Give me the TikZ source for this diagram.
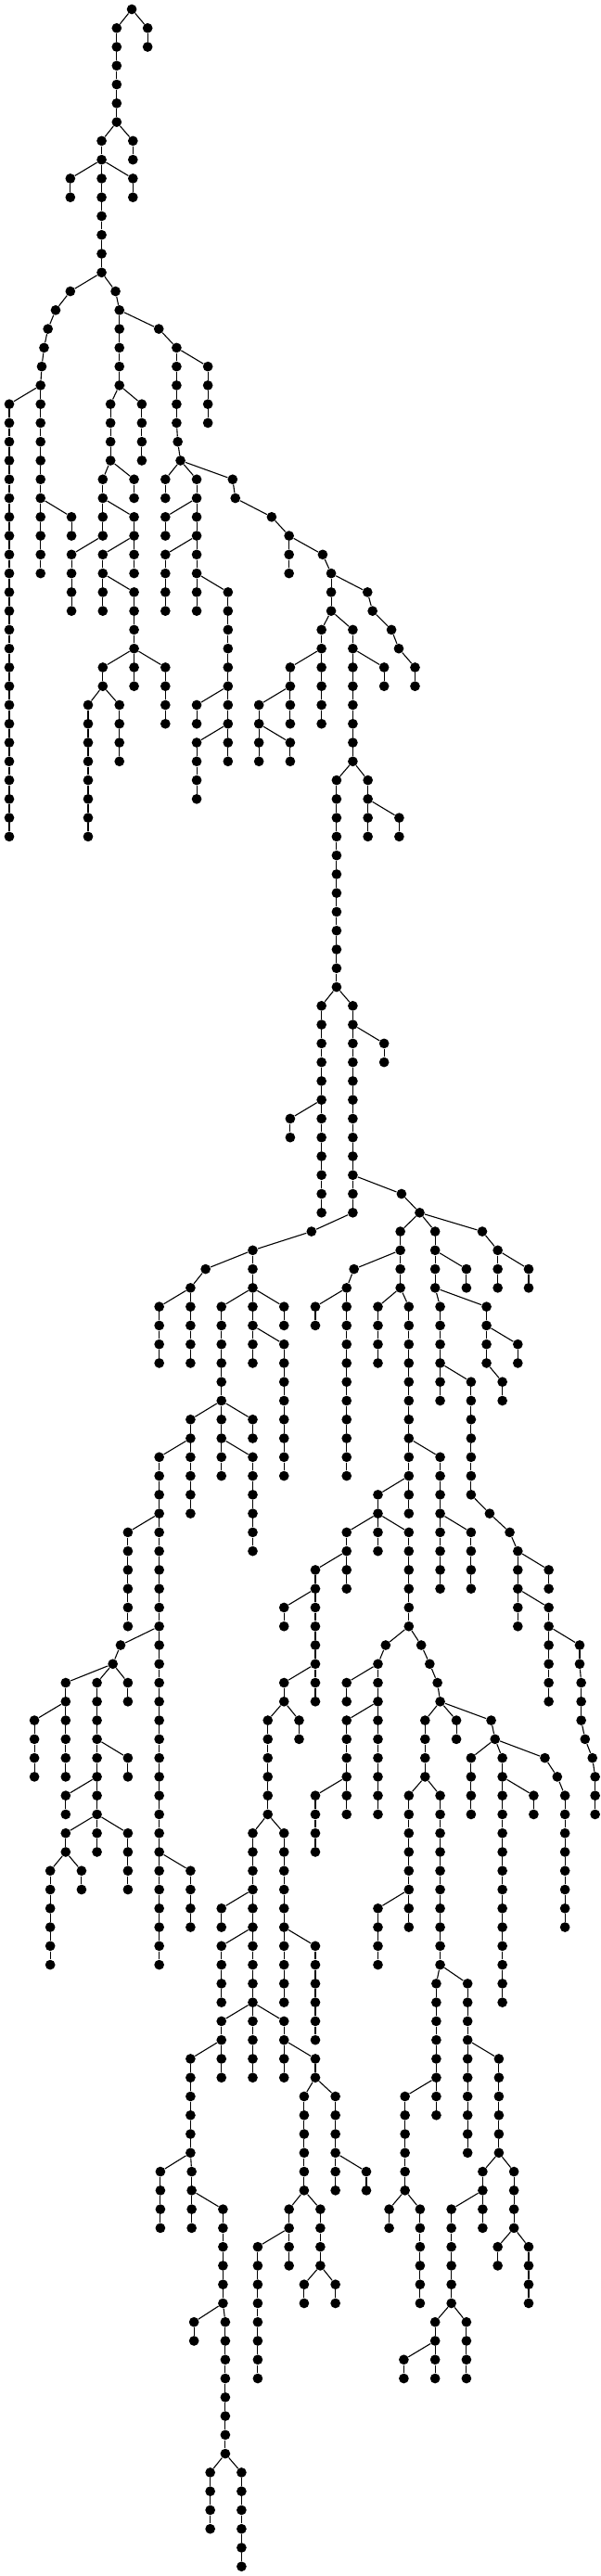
\documentclass[tikz,border=0pt]{standalone}
\tikzset{
  dot/.style={circle,fill=black,draw=none,inner sep=0pt,minimum size=5.35pt},
  edge/.style={line width=0.55pt,black},
}
\newcommand\chn[3]{%
  \foreach \k in {#2,...,#3}{\node[dot] (n#1L\k) at (#1,\k) {};}%
  \ifnum#3>#2\relax
    \pgfmathtruncatemacro\chst{#2+1}%
    \foreach \k [evaluate=\k as \j using int(\k-1)] in {\chst,...,#3}{\draw[edge] (n#1L\j) -- (n#1L\k);}%
  \fi}
\newcommand\ed[4]{\draw[edge] (n#1L#2) -- (n#3L#4);}
\begin{document}
\begin{tikzpicture}[x=0.20833pt,y=-10.135pt]
\useasboundingbox[fill=white] (0,-0.4933) rectangle (1553,136.507);
\chn{341}{0}{0}
\chn{302}{1}{6}
\chn{382}{1}{2}
\chn{263}{7}{14}
\chn{344}{7}{8}
\chn{182}{9}{10}
\chn{344}{9}{10}
\chn{182}{15}{15}
\chn{144}{16}{16}
\chn{124}{17}{17}
\chn{114}{18}{18}
\chn{108}{19}{19}
\chn{105}{20}{30}
\chn{24}{21}{44}
\chn{185}{27}{28}
\chn{299}{15}{15}
\chn{309}{16}{20}
\chn{411}{17}{17}
\chn{457}{18}{22}
\chn{538}{19}{22}
\chn{460}{23}{23}
\chn{467}{24}{24}
\chn{286}{21}{24}
\chn{367}{21}{24}
\chn{266}{25}{28}
\chn{347}{25}{26}
\chn{347}{27}{30}
\chn{185}{29}{32}
\chn{266}{29}{32}
\chn{347}{31}{36}
\chn{266}{35}{36}
\chn{428}{35}{38}
\chn{228}{37}{44}
\chn{309}{37}{40}
\chn{428}{25}{26}
\chn{509}{25}{32}
\chn{602}{25}{25}
\chn{428}{27}{28}
\chn{428}{29}{32}
\chn{590}{31}{40}
\chn{509}{37}{38}
\chn{509}{39}{42}
\chn{609}{26}{26}
\chn{703}{27}{27}
\chn{748}{28}{30}
\chn{835}{29}{29}
\chn{857}{30}{32}
\chn{951}{31}{31}
\chn{964}{32}{32}
\chn{1013}{33}{33}
\chn{1032}{34}{34}
\chn{1074}{35}{36}
\chn{832}{33}{38}
\chn{751}{35}{38}
\chn{670}{37}{40}
\chn{751}{39}{40}
\chn{913}{33}{40}
\chn{994}{35}{36}
\chn{871}{41}{52}
\chn{952}{41}{44}
\chn{1033}{43}{44}
\chn{832}{53}{64}
\chn{751}{59}{60}
\chn{913}{53}{64}
\chn{994}{55}{56}
\chn{1039}{63}{63}
\chn{1086}{64}{64}
\chn{806}{65}{65}
\chn{654}{66}{72}
\chn{532}{67}{67}
\chn{493}{68}{72}
\chn{412}{69}{72}
\chn{573}{69}{78}
\chn{735}{69}{70}
\chn{735}{71}{78}
\chn{493}{75}{80}
\chn{654}{75}{76}
\chn{412}{77}{104}
\chn{654}{77}{82}
\chn{331}{81}{86}
\chn{312}{87}{87}
\chn{292}{88}{88}
\chn{170}{89}{94}
\chn{89}{91}{94}
\chn{251}{89}{98}
\chn{331}{89}{90}
\chn{331}{93}{94}
\chn{170}{95}{96}
\chn{170}{97}{98}
\chn{331}{97}{100}
\chn{130}{99}{104}
\chn{211}{99}{100}
\chn{493}{99}{102}
\chn{916}{67}{67}
\chn{897}{68}{78}
\chn{816}{69}{70}
\chn{1036}{65}{68}
\chn{978}{69}{72}
\chn{1058}{69}{80}
\chn{1139}{77}{84}
\chn{1219}{81}{84}
\chn{978}{79}{82}
\chn{897}{81}{84}
\chn{1058}{81}{86}
\chn{816}{83}{90}
\chn{735}{85}{86}
\chn{735}{89}{90}
\chn{693}{91}{96}
\chn{774}{91}{92}
\chn{654}{97}{110}
\chn{735}{97}{106}
\chn{573}{101}{102}
\chn{573}{103}{106}
\chn{816}{103}{108}
\chn{573}{107}{110}
\chn{735}{107}{110}
\chn{493}{109}{114}
\chn{816}{109}{110}
\chn{787}{111}{116}
\chn{868}{111}{116}
\chn{948}{115}{116}
\chn{415}{115}{118}
\chn{496}{115}{118}
\chn{577}{117}{122}
\chn{502}{123}{124}
\chn{583}{123}{130}
\chn{544}{131}{134}
\chn{625}{131}{136}
\chn{748}{117}{120}
\chn{829}{117}{120}
\chn{667}{119}{126}
\chn{787}{121}{122}
\chn{868}{121}{122}
\chn{998}{87}{87}
\chn{978}{88}{96}
\chn{897}{89}{90}
\chn{897}{91}{96}
\chn{816}{95}{98}
\chn{1090}{87}{87}
\chn{1112}{88}{88}
\chn{1132}{89}{89}
\chn{1139}{90}{90}
\chn{1100}{91}{94}
\chn{1181}{91}{92}
\chn{1271}{91}{91}
\chn{1281}{92}{92}
\chn{1219}{93}{96}
\chn{1300}{93}{106}
\chn{1410}{93}{93}
\chn{1381}{95}{96}
\chn{1442}{94}{94}
\chn{1462}{95}{102}
\chn{1058}{95}{102}
\chn{1139}{95}{104}
\chn{978}{101}{104}
\chn{1129}{105}{112}
\chn{1210}{105}{114}
\chn{1048}{111}{116}
\chn{1291}{109}{114}
\chn{1007}{117}{118}
\chn{1087}{117}{122}
\chn{1249}{115}{118}
\chn{1330}{115}{118}
\chn{1168}{117}{122}
\chn{1126}{123}{126}
\chn{1207}{123}{126}
\chn{1045}{125}{126}
\chn{1288}{119}{120}
\chn{1368}{119}{122}
\chn{1126}{65}{68}
\chn{1207}{67}{68}
\chn{1248}{65}{65}
\chn{1288}{66}{68}
\chn{1368}{67}{68}
\chn{1139}{69}{74}
\chn{1219}{73}{79}
\chn{1267}{80}{80}
\chn{1319}{81}{81}
\chn{1340}{82}{86}
\chn{1420}{83}{84}
\chn{1420}{85}{90}
\chn{1500}{87}{88}
\chn{1504}{89}{91}
\chn{1514}{92}{92}
\chn{1533}{93}{93}
\chn{1540}{94}{96}
\chn{1259}{69}{72}
\chn{1340}{71}{72}
\chn{1300}{73}{74}
\ed{341}{0}{302}{1}
\ed{341}{0}{382}{1}
\ed{302}{6}{263}{7}
\ed{302}{6}{344}{7}
\ed{263}{8}{182}{9}
\ed{263}{8}{344}{9}
\ed{263}{14}{182}{15}
\ed{263}{14}{299}{15}
\ed{182}{15}{144}{16}
\ed{144}{16}{124}{17}
\ed{124}{17}{114}{18}
\ed{114}{18}{108}{19}
\ed{108}{19}{105}{20}
\ed{105}{20}{24}{21}
\ed{105}{26}{185}{27}
\ed{299}{15}{309}{16}
\ed{309}{16}{411}{17}
\ed{411}{17}{457}{18}
\ed{457}{18}{538}{19}
\ed{457}{22}{460}{23}
\ed{460}{23}{467}{24}
\ed{309}{20}{286}{21}
\ed{309}{20}{367}{21}
\ed{286}{24}{266}{25}
\ed{286}{24}{347}{25}
\ed{266}{26}{347}{27}
\ed{266}{28}{185}{29}
\ed{347}{28}{266}{29}
\ed{266}{30}{347}{31}
\ed{347}{34}{266}{35}
\ed{347}{34}{428}{35}
\ed{266}{36}{228}{37}
\ed{266}{36}{309}{37}
\ed{467}{24}{428}{25}
\ed{467}{24}{509}{25}
\ed{467}{24}{602}{25}
\ed{509}{26}{428}{27}
\ed{509}{28}{428}{29}
\ed{509}{30}{590}{31}
\ed{590}{36}{509}{37}
\ed{590}{38}{509}{39}
\ed{602}{25}{609}{26}
\ed{609}{26}{703}{27}
\ed{703}{27}{748}{28}
\ed{748}{28}{835}{29}
\ed{835}{29}{857}{30}
\ed{857}{30}{951}{31}
\ed{951}{31}{964}{32}
\ed{964}{32}{1013}{33}
\ed{1013}{33}{1032}{34}
\ed{1032}{34}{1074}{35}
\ed{857}{32}{832}{33}
\ed{857}{32}{913}{33}
\ed{832}{34}{751}{35}
\ed{751}{36}{670}{37}
\ed{670}{38}{751}{39}
\ed{913}{34}{994}{35}
\ed{913}{40}{871}{41}
\ed{913}{40}{952}{41}
\ed{952}{42}{1033}{43}
\ed{871}{52}{832}{53}
\ed{871}{52}{913}{53}
\ed{832}{58}{751}{59}
\ed{913}{54}{994}{55}
\ed{913}{62}{1039}{63}
\ed{1039}{63}{1086}{64}
\ed{913}{64}{806}{65}
\ed{806}{65}{654}{66}
\ed{654}{66}{532}{67}
\ed{532}{67}{493}{68}
\ed{493}{68}{412}{69}
\ed{654}{68}{573}{69}
\ed{654}{68}{735}{69}
\ed{654}{70}{735}{71}
\ed{573}{74}{493}{75}
\ed{573}{74}{654}{75}
\ed{493}{76}{412}{77}
\ed{573}{76}{654}{77}
\ed{412}{80}{331}{81}
\ed{412}{86}{312}{87}
\ed{312}{87}{292}{88}
\ed{292}{88}{170}{89}
\ed{292}{88}{251}{89}
\ed{292}{88}{331}{89}
\ed{170}{90}{89}{91}
\ed{251}{92}{331}{93}
\ed{251}{94}{170}{95}
\ed{251}{96}{170}{97}
\ed{251}{96}{331}{97}
\ed{170}{98}{130}{99}
\ed{170}{98}{211}{99}
\ed{412}{98}{493}{99}
\ed{1036}{66}{916}{67}
\ed{916}{67}{897}{68}
\ed{897}{68}{816}{69}
\ed{1086}{64}{1036}{65}
\ed{1036}{68}{978}{69}
\ed{1036}{68}{1058}{69}
\ed{1058}{76}{1139}{77}
\ed{1139}{80}{1219}{81}
\ed{1058}{78}{978}{79}
\ed{978}{80}{897}{81}
\ed{978}{80}{1058}{81}
\ed{897}{82}{816}{83}
\ed{816}{84}{735}{85}
\ed{816}{88}{735}{89}
\ed{735}{90}{693}{91}
\ed{735}{90}{774}{91}
\ed{693}{96}{654}{97}
\ed{693}{96}{735}{97}
\ed{654}{100}{573}{101}
\ed{654}{102}{573}{103}
\ed{735}{102}{816}{103}
\ed{654}{106}{573}{107}
\ed{654}{106}{735}{107}
\ed{573}{108}{493}{109}
\ed{735}{108}{816}{109}
\ed{816}{110}{787}{111}
\ed{816}{110}{868}{111}
\ed{868}{114}{948}{115}
\ed{493}{114}{415}{115}
\ed{493}{114}{496}{115}
\ed{496}{116}{577}{117}
\ed{577}{122}{502}{123}
\ed{577}{122}{583}{123}
\ed{583}{130}{544}{131}
\ed{583}{130}{625}{131}
\ed{787}{116}{748}{117}
\ed{787}{116}{829}{117}
\ed{748}{118}{667}{119}
\ed{829}{120}{787}{121}
\ed{829}{120}{868}{121}
\ed{1058}{86}{998}{87}
\ed{998}{87}{978}{88}
\ed{978}{88}{897}{89}
\ed{978}{90}{897}{91}
\ed{897}{94}{816}{95}
\ed{1058}{86}{1090}{87}
\ed{1090}{87}{1112}{88}
\ed{1112}{88}{1132}{89}
\ed{1132}{89}{1139}{90}
\ed{1139}{90}{1100}{91}
\ed{1139}{90}{1181}{91}
\ed{1139}{90}{1271}{91}
\ed{1271}{91}{1281}{92}
\ed{1281}{92}{1219}{93}
\ed{1281}{92}{1300}{93}
\ed{1281}{92}{1410}{93}
\ed{1300}{94}{1381}{95}
\ed{1410}{93}{1442}{94}
\ed{1442}{94}{1462}{95}
\ed{1100}{94}{1058}{95}
\ed{1100}{94}{1139}{95}
\ed{1058}{100}{978}{101}
\ed{1139}{104}{1129}{105}
\ed{1139}{104}{1210}{105}
\ed{1129}{110}{1048}{111}
\ed{1210}{108}{1291}{109}
\ed{1048}{116}{1007}{117}
\ed{1048}{116}{1087}{117}
\ed{1291}{114}{1249}{115}
\ed{1291}{114}{1330}{115}
\ed{1249}{116}{1168}{117}
\ed{1168}{122}{1126}{123}
\ed{1168}{122}{1207}{123}
\ed{1126}{124}{1045}{125}
\ed{1330}{118}{1288}{119}
\ed{1330}{118}{1368}{119}
\ed{1086}{64}{1126}{65}
\ed{1126}{66}{1207}{67}
\ed{1086}{64}{1248}{65}
\ed{1248}{65}{1288}{66}
\ed{1288}{66}{1368}{67}
\ed{1126}{68}{1139}{69}
\ed{1139}{72}{1219}{73}
\ed{1219}{79}{1267}{80}
\ed{1267}{80}{1319}{81}
\ed{1319}{81}{1340}{82}
\ed{1340}{82}{1420}{83}
\ed{1340}{84}{1420}{85}
\ed{1420}{86}{1500}{87}
\ed{1500}{88}{1504}{89}
\ed{1504}{91}{1514}{92}
\ed{1514}{92}{1533}{93}
\ed{1533}{93}{1540}{94}
\ed{1126}{68}{1259}{69}
\ed{1259}{70}{1340}{71}
\ed{1259}{72}{1300}{73}
\end{tikzpicture}
\end{document}
